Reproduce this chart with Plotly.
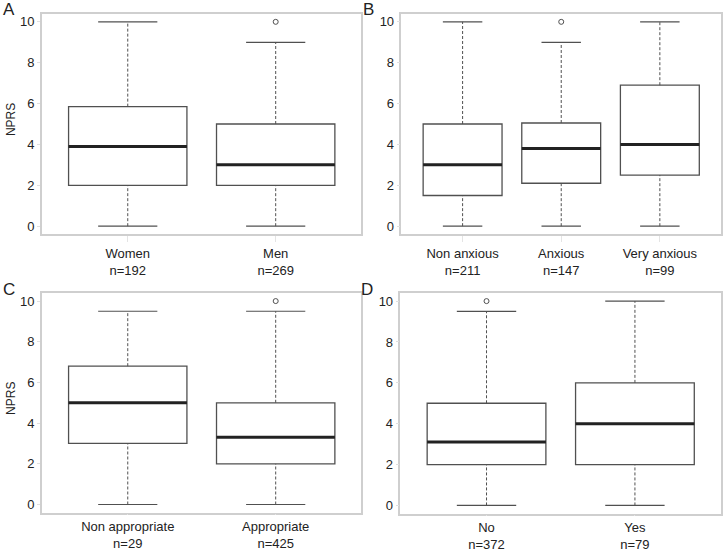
import plotly.graph_objects as go

W, H = 723, 552

# ---------------- data ----------------
cats_A = ["Women", "Men"]
n_A = [192, 269]
lo_A = [0, 0]
q1_A = [2.0, 2.0]
med_A = [3.9, 3.0]
q3_A = [5.85, 5.0]
hi_A = [10, 9]
out_A = [[], [10]]

cats_B = ["Non anxious", "Anxious", "Very anxious"]
n_B = [211, 147, 99]
lo_B = [0, 0, 0]
q1_B = [1.5, 2.1, 2.5]
med_B = [3.0, 3.8, 4.0]
q3_B = [5.0, 5.05, 6.9]
hi_B = [10, 9, 10]
out_B = [[], [10], []]

cats_C = ["Non appropriate", "Appropriate"]
n_C = [29, 425]
lo_C = [0, 0]
q1_C = [3.0, 2.0]
med_C = [5.0, 3.3]
q3_C = [6.8, 5.0]
hi_C = [9.5, 9.5]
out_C = [[], [10]]

cats_D = ["No", "Yes"]
n_D = [372, 79]
lo_D = [0, 0]
q1_D = [2.0, 2.0]
med_D = [3.1, 4.0]
q3_D = [5.0, 6.0]
hi_D = [9.5, 10]
out_D = [[10], []]

y_ticks = [0, 2, 4, 6, 8, 10]

panels = [
    ("A", cats_A, n_A, lo_A, q1_A, med_A, q3_A, hi_A, out_A),
    ("B", cats_B, n_B, lo_B, q1_B, med_B, q3_B, hi_B, out_B),
    ("C", cats_C, n_C, lo_C, q1_C, med_C, q3_C, hi_C, out_C),
    ("D", cats_D, n_D, lo_D, q1_D, med_D, q3_D, hi_D, out_D),
]

# pixel frames (x0, x1, ytop, ybottom)
frames = {
    "A": (42, 362, 14, 240),
    "B": (402, 722, 14, 240),
    "C": (42, 362, 300, 525),
    "D": (401, 722, 300, 526),
}

FONT = "Liberation Sans, Arial, Helvetica, sans-serif"
TXT = "#222222"
BOXC = "#505050"
FRAME = "#cfcfcf"

fig = go.Figure()
layout = dict(
    width=W, height=H, margin=dict(l=0, r=0, t=0, b=0),
    paper_bgcolor="white", plot_bgcolor="white", showlegend=False,
    font=dict(family=FONT, size=13, color=TXT),
)
annotations = []

for k, (lab, cats, ns, lo, q1, med, q3, hi, outs) in enumerate(panels):
    sfx = "" if k == 0 else str(k + 1)
    xa, ya = "x" + sfx, "y" + sfx
    x0, x1, yt, yb = frames[lab]
    m = len(cats)
    pos = list(range(1, m + 1))
    pad = 0.04 * m
    xr = [0.5 - pad, m + 0.5 + pad]

    for i, p in enumerate(pos):
        # whiskers (dashed)
        fig.add_trace(go.Scatter(
            x=[p, p, None, p, p], y=[q3[i], hi[i], None, lo[i], q1[i]],
            mode="lines", line=dict(color=BOXC, width=1, dash="3px,2px"),
            xaxis=xa, yaxis=ya, hoverinfo="skip"))
        # staples
        fig.add_trace(go.Scatter(
            x=[p - 0.2, p + 0.2, None, p - 0.2, p + 0.2],
            y=[hi[i], hi[i], None, lo[i], lo[i]],
            mode="lines", line=dict(color=BOXC, width=1.2),
            xaxis=xa, yaxis=ya, hoverinfo="skip"))
        # box
        fig.add_trace(go.Box(
            x=[p], q1=[q1[i]], median=[med[i]], q3=[q3[i]],
            lowerfence=[q1[i]], upperfence=[q3[i]], width=0.8,
            fillcolor="white", line=dict(color=BOXC, width=1.3),
            xaxis=xa, yaxis=ya, hoverinfo="skip", boxpoints=False))
        # median (thick)
        fig.add_trace(go.Scatter(
            x=[p - 0.4, p + 0.4], y=[med[i], med[i]],
            mode="lines", line=dict(color="#222222", width=3),
            xaxis=xa, yaxis=ya, hoverinfo="skip"))
        # outliers
        if outs[i]:
            fig.add_trace(go.Scatter(
                x=[p] * len(outs[i]), y=outs[i], mode="markers",
                marker=dict(symbol="circle-open", size=5, color=BOXC,
                            line=dict(width=1, color=BOXC)),
                xaxis=xa, yaxis=ya, hoverinfo="skip"))

    top_row = lab in ("A", "B")
    layout["xaxis" + sfx] = dict(
        domain=[x0 / W, x1 / W], anchor=ya, range=xr,
        tickvals=pos, ticktext=[f"{c}<br>n={n}" for c, n in zip(cats, ns)],
        showgrid=False, zeroline=False, showline=True, mirror=True,
        linecolor=FRAME, linewidth=1.5, ticks="outside",
        ticklen=6 if top_row else 1, tickcolor="#e4e4e4",
        tickfont=dict(size=13, color=TXT), fixedrange=True,
    )
    layout["yaxis" + sfx] = dict(
        domain=[1 - yb / H, 1 - yt / H], anchor=xa, range=[-0.4, 10.4],
        tickvals=y_ticks, showgrid=False, zeroline=False, showline=True,
        mirror=True, linecolor=FRAME, linewidth=1.5, ticks="outside",
        ticklen=3, tickcolor="#e0e0e0", tickfont=dict(size=13, color=TXT),
        fixedrange=True,
    )
    # panel letter
    annotations.append(dict(
        text=lab, x=(x0 - 33) / W, y=1 - (yt - 4) / H, xref="paper",
        yref="paper", showarrow=False, xanchor="center", yanchor="middle",
        font=dict(size=17, color=TXT, family=FONT)))
    if lab in ("A", "C"):
        annotations.append(dict(
            text="NPRS", x=11 / W, y=1 - ((yt + yb) / 2 - 5) / H,
            xref="paper", yref="paper", showarrow=False, textangle=-90,
            xanchor="center", yanchor="middle",
            font=dict(size=12, color=TXT, family=FONT)))

layout["annotations"] = annotations
fig.update_layout(**layout)
fig.write_html("out.html")
